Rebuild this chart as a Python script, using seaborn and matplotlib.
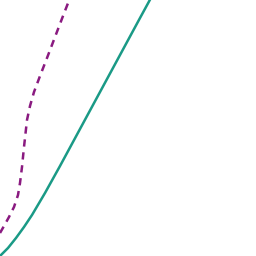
import matplotlib
matplotlib.use("Agg")
import matplotlib.pyplot as plt
import seaborn as sns
import pandas as pd

# Data (coordinates in chart units, y measured upward)
teal_x = [0, 8, 16, 24, 32, 45, 60, 80, 100, 120, 140, 152]
teal_y = [0, 8, 18, 29, 41, 63, 90, 127, 164, 201, 238, 260]

purple_x = [0, 4, 9, 14, 18, 20, 22, 24, 27, 30, 34, 40, 47, 55, 63, 70]
purple_y = [23, 30, 39, 49, 61, 73, 89, 109, 136, 150, 164, 180, 198, 219, 240, 258]

teal_df = pd.DataFrame({"x": teal_x, "y": teal_y})
purple_df = pd.DataFrame({"x": purple_x, "y": purple_y})

sns.set_style("white")
fig = plt.figure(figsize=(2.56, 2.56), dpi=100)
ax = fig.add_axes([0, 0, 1, 1])
sns.lineplot(data=teal_df, x="x", y="y", ax=ax, color="#1a9a86", linewidth=1.8, sort=False)
sns.lineplot(data=purple_df, x="x", y="y", ax=ax, color="#8a1a80", linewidth=1.8,
             sort=False, dashes=False, linestyle=(0, (2.9, 2.3)))
ax.set_xlim(0, 256)
ax.set_ylim(0, 256)
ax.axis("off")
fig.savefig("out.png", dpi=100)
